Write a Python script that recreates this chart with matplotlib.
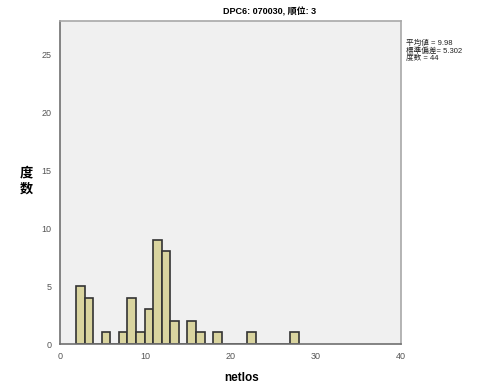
import numpy as np
import matplotlib
matplotlib.use("Agg")
from matplotlib import pyplot as plt

# === Data ===
# histogram counts per bin (bin width ~1.005, first bin starts ~1.88)
bin_start = 1.88
bin_width = 1.005
counts = [5, 4, 0, 1, 0, 1, 4, 1, 3, 9, 8, 2, 0, 2, 1, 0, 1, 0, 0, 0, 1, 0, 0, 0, 0, 1]
title = "DPC6: 070030, 順位: 3"
x_label = "netlos"
y_label = "度\n数"
stats_text = "平均値 = 9.98\n標準偏差= 5.302\n度数 = 44"
x_ticks = [0, 10, 20, 30, 40]
y_ticks = [0, 5, 10, 15, 20, 25]

plt.rcParams['font.family'] = ['Liberation Sans', 'Noto Sans CJK TC']

fig = plt.figure(figsize=(4.86, 3.85), dpi=100)
W, H = 486, 385
ax = fig.add_axes([60 / W, 1 - 344 / H, (401 - 60) / W, (344 - 21) / H])
ax.set_facecolor("#f0f0f0")

lefts = bin_start + bin_width * np.arange(len(counts))
ax.bar(lefts, counts, width=bin_width, align="edge",
       color="#d9d49f", edgecolor="#333333", linewidth=1.2)

ax.set_xlim(0, 40)
ax.set_ylim(0, 27.85)
ax.set_xticks(x_ticks)
ax.set_yticks(y_ticks)
ax.tick_params(length=0, labelsize=6.5, colors="#555555", pad=6)

for side in ["left", "bottom"]:
    ax.spines[side].set_color("#707070")
    ax.spines[side].set_linewidth(1.2)
for side in ["top", "right"]:
    ax.spines[side].set_color("#a8a8a8")
    ax.spines[side].set_linewidth(1.2)

fig.text(270 / W, 1 - 12 / H, title, ha="center", va="center",
         fontsize=6.5, fontweight="bold")
fig.text(26 / W, 1 - 181 / H, y_label, ha="center", va="center",
         fontsize=9.5, fontweight="bold", linespacing=1.45)
fig.text(242 / W, 1 - 378 / H, x_label, ha="center", va="center",
         fontsize=8.5, fontweight="bold")
fig.text(406 / W, 1 - 40 / H, stats_text, ha="left", va="top",
         fontsize=5.5, linespacing=1.0, color="#222222")

fig.savefig("out.png", dpi=100)
